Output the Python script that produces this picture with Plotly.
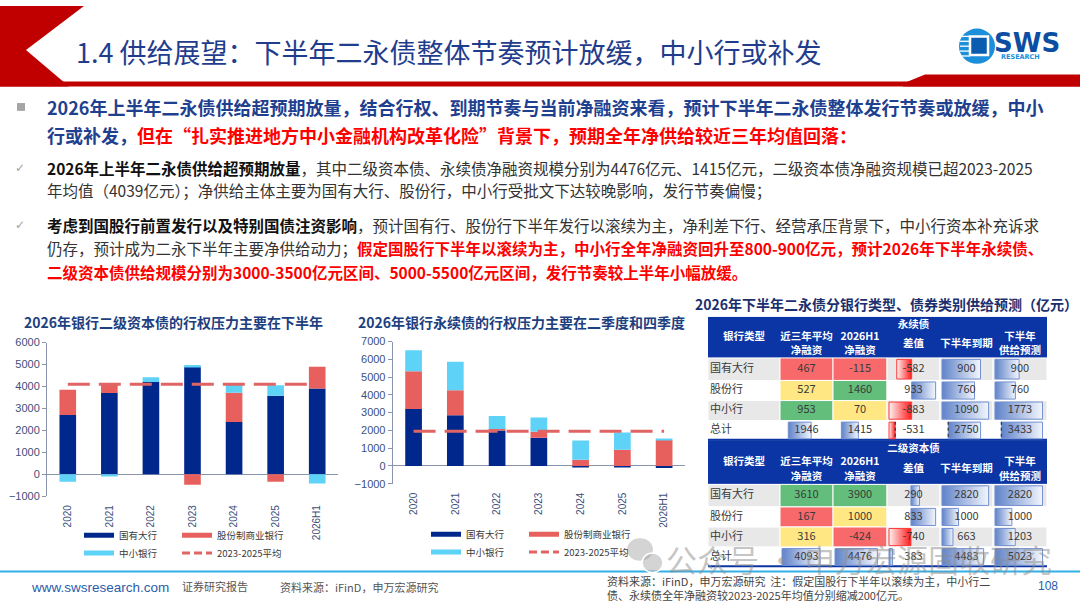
import plotly.graph_objects as go

W, H = 1080, 608
CJK = "Noto Sans CJK SC"
LAT = "Liberation Sans"

# ---------------- data ----------------
years = ["2020", "2021", "2022", "2023", "2024", "2025", "2026H1"]
series_names = ["国有大行", "股份制商业银行", "中小银行", "2023-2025平均"]

# 二级资本债（亿元）
t2_state = [2700, 3700, 4200, 4880, 2380, 3570, 3900]
t2_joint = [1150, 420, 0, -480, 1330, -350, 1000]
t2_small = [-340, -100, 220, 90, 380, 478, -424]
t2_avg = 4093

# 永续债（亿元）
pp_state = [3200, 2850, 2000, 1590, -95, -94, -115]
pp_joint = [2130, 1415, 80, 330, 340, 911, 1460]
pp_small = [1180, 1600, 730, 800, 1090, 969, 70]
pp_avg = 1946

# 表格
bank_types = ["国有大行", "股份行", "中小行", "总计"]
col_heads = [["近三年平均", "净融资"], ["2026H1", "净融资"], ["差值"], ["下半年到期"], ["下半年", "供给预测"]]

pp_avg3 = [467, 527, 953, 1946]
pp_h1 = [-115, 1460, 70, 1415]
pp_diff = [-582, 933, -883, -531]
pp_due = [900, 760, 1090, 2750]
pp_fc = [900, 760, 1773, 3433]

t2_avg3 = [3610, 167, 316, 4093]
t2_h1 = [3900, 1000, -424, 4476]
t2_diff = [290, 833, -740, 383]
t2_due = [2820, 1000, 663, 4483]
t2_fc = [2820, 1000, 1203, 5023]

# ---------------- styles ----------------
NAVY = "#00288c"
SALMON = "#e8605d"
CYAN = "#5fd3f7"
AVG_RED = "#e06464"
TICK = "#3d4f7c"
AXIS = "#8a94ad"
TITLE_BLUE = "#1f3d8c"
RED = "#ff0000"
HEAD_BLUE = "#0b34a4"


def px(x):
    return x / W


def py(y):
    return 1 - y / H


def hex_mix(a, b, t):
    a = [int(a[i:i + 2], 16) for i in (1, 3, 5)]
    b = [int(b[i:i + 2], 16) for i in (1, 3, 5)]
    return "#%02x%02x%02x" % tuple(round(a[i] + (b[i] - a[i]) * t) for i in range(3))


fig = go.Figure()

# ---------------- the two bar charts ----------------
def bar_chart(n, state, joint, small, avg, legend_spots):
    xa, ya = ("x", "y") if n == 1 else ("x%d" % n, "y%d" % n)
    for vals, c, nm in zip([state, joint, small], [NAVY, SALMON, CYAN], series_names):
        fig.add_trace(go.Bar(x=years, y=vals, name=nm, width=0.4,
                             marker=dict(color=c, line=dict(width=0)),
                             xaxis=xa, yaxis=ya, showlegend=False, hoverinfo="skip"))
    fig.add_trace(go.Scatter(x=years, y=[avg] * len(years), mode="lines", name=series_names[3],
                             line=dict(color=AVG_RED, width=3, dash="22px,9px"),
                             xaxis=xa, yaxis=ya, showlegend=False, hoverinfo="skip"))
    # one legend per entry so the 2x2 grid sits where it should
    styles = [dict(color=NAVY, width=5), dict(color=SALMON, width=5),
              dict(color=CYAN, width=5), dict(color=AVG_RED, width=3, dash="8px,4px")]
    for nm, st, (lid, sx, sy) in zip(series_names, styles, legend_spots):
        fig.add_trace(go.Scatter(x=[None], y=[None], mode="lines", name=nm, line=st,
                                 legend=lid, xaxis=xa, yaxis=ya, showlegend=True))
        fig.update_layout({lid: dict(x=px(sx - 6), y=py(sy), xanchor="left", yanchor="middle",
                                     orientation="h", bgcolor="rgba(0,0,0,0)", borderwidth=0,
                                     itemwidth=30,
                                     font=dict(size=9.5, color="#3a3a3a", family=CJK))})


bar_chart(1, t2_state, t2_joint, t2_small, t2_avg,
          [("legend", 85, 540), ("legend2", 183, 540), ("legend3", 85, 558), ("legend4", 183, 558)])
bar_chart(2, pp_state, pp_joint, pp_small, pp_avg,
          [("legend5", 432, 539), ("legend6", 530, 539), ("legend7", 432, 557), ("legend8", 530, 557)])

xcommon = dict(type="category", range=[-0.5, 6.5], tickangle=-90, showgrid=False, showline=False,
               ticks="", ticklabelstandoff=6,
               tickfont=dict(size=10, color=TICK, family=LAT), fixedrange=True)
ycommon = dict(dtick=1000, showgrid=False, showline=True, linecolor=AXIS, linewidth=1,
               ticks="outside", ticklen=4, tickcolor=AXIS, zeroline=True, zerolinecolor=AXIS,
               zerolinewidth=1, tickfont=dict(size=11, color=TICK, family=LAT), fixedrange=True)
fig.update_layout(
    xaxis=dict(xcommon, domain=[px(47), px(338)], anchor="y"),
    yaxis=dict(ycommon, domain=[py(500), py(343.3)], range=[-1000, 6000], anchor="x"),
    xaxis2=dict(xcommon, domain=[px(392.7), px(685)], anchor="y2"),
    yaxis2=dict(ycommon, domain=[py(487.3), py(342.3)], range=[-1000, 7000], anchor="x2"),
    xaxis3=dict(domain=[px(708), px(1047)], range=[708, 1047], visible=False, anchor="y3",
                fixedrange=True),
    yaxis3=dict(domain=[py(574), py(317)], range=[574, 317], visible=False, anchor="x3",
                fixedrange=True),
)

# ---------------- table ----------------
col_edges = [708, 780, 833, 887, 940, 993, 1047]
row_h = [23, 20.5, 20.5, 20]
blocks = [("永续债", 317, 42, [pp_avg3, pp_h1, pp_diff, pp_due, pp_fc]),
          ("二级资本债", 443, 45, [t2_avg3, t2_h1, t2_diff, t2_due, t2_fc])]

C_RED, C_YEL, C_GRN = "#f8696b", "#ffe884", "#63be7b"


def scale_colors(vals):
    lo, hi = min(vals), max(vals)
    mid = sorted(vals)[len(vals) // 2]
    out = []
    for v in vals:
        if v <= mid:
            out.append(hex_mix(C_RED, C_YEL, (v - lo) / (mid - lo) if mid > lo else 0))
        else:
            out.append(hex_mix(C_YEL, C_GRN, (v - mid) / (hi - mid)))
    return out


def bar_spans(vals, lefts, widths):
    lo, hi = min(0, min(vals)), max(0, max(vals))
    rng = hi - lo
    out = []
    for v, x0, w in zip(vals, lefts, widths):
        use = w * 0.88
        ax = x0 + 2 + use * (-lo / rng)
        x1 = ax + use * v / rng
        out.append((min(ax, x1), max(ax, x1), v < 0, ax, lo < 0))
    return out


def cell_rect(x0, x1, y0, y1, fill, line=None):
    fig.add_shape(type="rect", xref="x3", yref="y3", x0=x0, x1=x1, y0=y0, y1=y1,
                  fillcolor=fill, line=dict(width=1 if line else 0, color=line or fill),
                  layer="below")


def data_bar(x0, x1, y0, y1, negative):
    if negative:
        cs, lc = [[0, "#fff2f2"], [1, "#ff1a1a"]], "#ff3b3b"
    else:
        cs, lc = [[0, "#5f82c9"], [1, "#f3f6fc"]], "#7391d1"
    fig.add_trace(go.Scatter(x=[x0, x1, x1, x0, x0], y=[y0, y0, y1, y1, y0], mode="lines",
                             fill="toself", fillgradient=dict(type="horizontal", colorscale=cs),
                             line=dict(color=lc, width=1), xaxis="x3", yaxis="y3",
                             showlegend=False, hoverinfo="skip"))


lab_x, lab_y, lab_t = [], [], []
num_x, num_y, num_t = [], [], []
hd_x, hd_y, hd_t = [], [], []

for title, top, head, cols in blocks:
    cell_rect(col_edges[0], col_edges[-1], top, top + head, HEAD_BLUE)
    hd_x.append((col_edges[1] + col_edges[-1]) / 2)
    hd_y.append(top + 0.2 * head)
    hd_t.append("<b>%s</b>" % title)
    hd_x.append((col_edges[0] + col_edges[1]) / 2)
    hd_y.append(top + 0.5 * head)
    hd_t.append("<b>银行类型</b>")
    for c, lines in enumerate(col_heads):
        cx = (col_edges[c + 1] + col_edges[c + 2]) / 2
        offs = [0.5, 0.85] if len(lines) == 2 else [0.67]
        for ln, o in zip(lines, offs):
            hd_x.append(cx)
            hd_y.append(top + o * head)
            hd_t.append("<b>%s</b>" % ln)

    row_tops = [top + head + sum(row_h[:r]) for r in range(4)]
    fills = [[("#e8e8e8" if r in (0, 2) else "#ffffff") for _ in range(6)] for r in range(4)]
    for c in (0, 1):
        for r, col in enumerate(scale_colors(cols[c][:3])):
            fills[r][c + 1] = col
    for r in range(4):
        for c in range(6):
            cell_rect(col_edges[c], col_edges[c + 1], row_tops[r], row_tops[r] + row_h[r],
                      fills[r][c], "#ffffff")
    fig.add_shape(type="rect", xref="x3", yref="y3", x0=col_edges[0], x1=col_edges[-1],
                  y0=row_tops[3] + row_h[3] - 1.5, y1=row_tops[3] + row_h[3] + 0.5,
                  fillcolor=HEAD_BLUE, line=dict(width=0), layer="below")

    # data bars: rows 1-3 per column (差值/到期/预测), total row as one group
    for c in (2, 3, 4):
        w = col_edges[c + 2] - col_edges[c + 1]
        spans = bar_spans(cols[c][:3], [col_edges[c + 1]] * 3, [w] * 3)
        for r, (a, b, neg, ax, mixed) in enumerate(spans):
            data_bar(a, b, row_tops[r] + 1.5, row_tops[r] + row_h[r] - 1.5, neg)
    tot = [col[3] for col in cols]
    spans = bar_spans(tot, col_edges[1:6], [col_edges[i + 1] - col_edges[i] for i in range(1, 6)])
    for c, (a, b, neg, ax, mixed) in enumerate(spans):
        data_bar(a, b, row_tops[3] + 1.5, row_tops[3] + row_h[3] - 1.5, neg)
        if mixed and c >= 2:
            fig.add_shape(type="line", xref="x3", yref="y3", x0=ax, x1=ax,
                          y0=row_tops[3] + 1, y1=row_tops[3] + row_h[3] - 1,
                          line=dict(color="#333333", width=1.2, dash="dot"))

    for r in range(4):
        cy = row_tops[r] + row_h[r] / 2
        lab_x.append(col_edges[0] + 2)
        lab_y.append(cy)
        lab_t.append(bank_types[r])
        for c in range(5):
            num_x.append((col_edges[c + 1] + col_edges[c + 2]) / 2)
            num_y.append(cy)
            num_t.append(str(cols[c][r]))

fig.add_trace(go.Scatter(x=hd_x, y=hd_y, text=hd_t, mode="text", textposition="middle center",
                         textfont=dict(size=10.5, color="#ffffff", family=CJK),
                         xaxis="x3", yaxis="y3", showlegend=False, hoverinfo="skip"))
fig.add_trace(go.Scatter(x=lab_x, y=lab_y, text=lab_t, mode="text", textposition="middle right",
                         textfont=dict(size=11, color="#3a3a3a", family=CJK),
                         xaxis="x3", yaxis="y3", showlegend=False, hoverinfo="skip"))
fig.add_trace(go.Scatter(x=num_x, y=num_y, text=num_t, mode="text", textposition="middle center",
                         textfont=dict(size=11, color="#3a3a3a", family=CJK),
                         xaxis="x3", yaxis="y3", showlegend=False, hoverinfo="skip"))

# ---------------- slide decoration ----------------
def path(points):
    return "M" + " L".join("%.5f,%.5f" % (px(x), py(y)) for x, y in points) + " Z"


fig.add_shape(type="path", xref="paper", yref="paper",
              path=path([(0, 0), (84, 0), (26, 45), (69, 82), (0, 82)]),
              fillcolor="#c00000", line=dict(width=0))
fig.add_shape(type="rect", xref="paper", yref="paper", x0=0, x1=1, y0=py(82), y1=py(77),
              fillcolor="#c00000", line=dict(width=0))
fig.add_shape(type="path", xref="paper", yref="paper",
              path=path([(903, 79), (925, 70), (1080, 70), (1080, 82), (903, 82)]),
              fillcolor="#c00000", line=dict(width=0))

# logo
fig.add_shape(type="circle", xref="paper", yref="paper", x0=px(959), x1=px(995),
              y0=py(59), y1=py(23), fillcolor="#1b8fd9", line=dict(width=0))
for sy in (31, 36, 41, 46, 51):
    fig.add_shape(type="line", xref="paper", yref="paper", x0=px(960), x1=px(970),
                  y0=py(sy), y1=py(sy), line=dict(color="#ffffff", width=1.3))
fig.add_shape(type="rect", xref="paper", yref="paper", x0=px(970), x1=px(988),
              y0=py(50), y1=py(31), fillcolor="#0a5cb0", line=dict(color="#ffffff", width=2.5))


def note(x, y, text, size, color, anchor="left", family=CJK, **kw):
    fig.add_annotation(x=px(x), y=py(y), xref="paper", yref="paper", text=text, showarrow=False,
                       xanchor=anchor, yanchor="middle", align="left",
                       font=dict(size=size, color=color, family=family), **kw)


note(1027, 38, "<b>SWS</b>", 26, "#0b4ea2", anchor="center", family="DejaVu Sans")
note(1020, 52, "<b>RESEARCH</b>", 6.5, "#1b8fd9", anchor="center", family="DejaVu Sans")

note(74, 46, "1.4 供给展望：下半年二永债整体节奏预计放缓，中小行或补发", 27, TITLE_BLUE)

# body text
fig.add_shape(type="rect", xref="paper", yref="paper", x0=px(17), x1=px(25), y0=py(107),
              y1=py(99), fillcolor="#a5a5a5", line=dict(width=0))
RS = "<span style='color:%s'>" % RED
note(45, 103, "<b>2026年上半年二永债供给超预期放量，结合行权、到期节奏与当前净融资来看，预计下半年二永债整体发行节奏或放缓，中小</b>",
     18, "#1f3f8f")
note(45, 132, "<b>行或补发，" + RS + "但在“扎实推进地方中小金融机构改革化险”背景下，预期全年净供给较近三年均值回落：</span></b>",
     18, "#1f3f8f")

note(20, 165, "✓", 12, "#a0a0a0", anchor="center", family="DejaVu Sans")
note(20, 223, "✓", 12, "#a0a0a0", anchor="center", family="DejaVu Sans")
BODY = "#333333"
note(45, 165, "<b><span style='color:#111111'>2026年上半年二永债供给超预期放量</span></b>，其中二级资本债、永续债净融资规模分别为4476亿元、1415亿元，二级资本债净融资规模已超2023-2025",
     15.5, BODY)
note(45, 188, "年均值（4039亿元）；净供给主体主要为国有大行、股份行，中小行受批文下达较晚影响，发行节奏偏慢；",
     15.5, BODY)
note(45, 223, "<b><span style='color:#111111'>考虑到国股行前置发行以及特别国债注资影响</span></b>，预计国有行、股份行下半年发行以滚续为主，净利差下行、经营承压背景下，中小行资本补充诉求",
     15.5, BODY)
note(45, 247, "仍存，预计成为二永下半年主要净供给动力；<b>" + RS + "假定国股行下半年以滚续为主，中小行全年净融资回升至800-900亿元，预计2026年下半年永续债、</span></b>",
     15.5, BODY)
note(45, 271, "<b>" + RS + "二级资本债供给规模分别为3000-3500亿元区间、5000-5500亿元区间，发行节奏较上半年小幅放缓。</span></b>",
     15.5, BODY)

# chart titles
note(173, 322, "<b>2026年银行二级资本债的行权压力主要在下半年</b>", 14, "#203f80", anchor="center")
note(521, 322, "<b>2026年银行永续债的行权压力主要在二季度和四季度</b>", 14, "#203f80", anchor="center")
note(886, 304, "<b>2026年下半年二永债分银行类型、债券类别供给预测（亿元）</b>", 14, "#1b2f6e", anchor="center")

# footer
fig.add_shape(type="line", xref="paper", yref="paper", x0=0, x1=1, y0=py(577), y1=py(577),
              line=dict(color="#33b0e6", width=2))
note(29, 593, "www.swsresearch.com", 13.5, "#2a5caa", family=LAT)
note(180, 592, "证券研究报告", 11, "#555555")
note(278, 593, "资料来源：iFinD，申万宏源研究", 11, "#555555")
note(605, 587, "资料来源：iFinD，申万宏源研究  注：假定国股行下半年以滚续为主，中小行二", 11, "#444444")
note(605, 601, "债、永续债全年净融资较2023-2025年均值分别缩减200亿元。", 11, "#444444")
note(1048, 592, "108", 12, "#2a5caa", anchor="center", family=LAT)

# watermark
fig.add_shape(type="circle", xref="paper", yref="paper", x0=px(627), x1=px(653), y0=py(566),
              y1=py(543), fillcolor="rgba(160,160,160,0.45)", line=dict(width=0))
fig.add_shape(type="circle", xref="paper", yref="paper", x0=px(642), x1=px(663), y0=py(578),
              y1=py(558), fillcolor="rgba(160,160,160,0.45)", line=dict(color="#ffffff", width=1.5))
note(664, 564, "公众号 · 申万宏源固收研究", 31, "rgba(140,140,140,0.5)")

fig.update_layout(width=W, height=H, margin=dict(l=0, r=0, t=0, b=0),
                  paper_bgcolor="#ffffff", plot_bgcolor="rgba(0,0,0,0)",
                  font=dict(family=CJK), barmode="relative", hovermode=False)

fig.write_html("out.html", config={"displayModeBar": False},
               post_script="document.body.style.margin='0';")
